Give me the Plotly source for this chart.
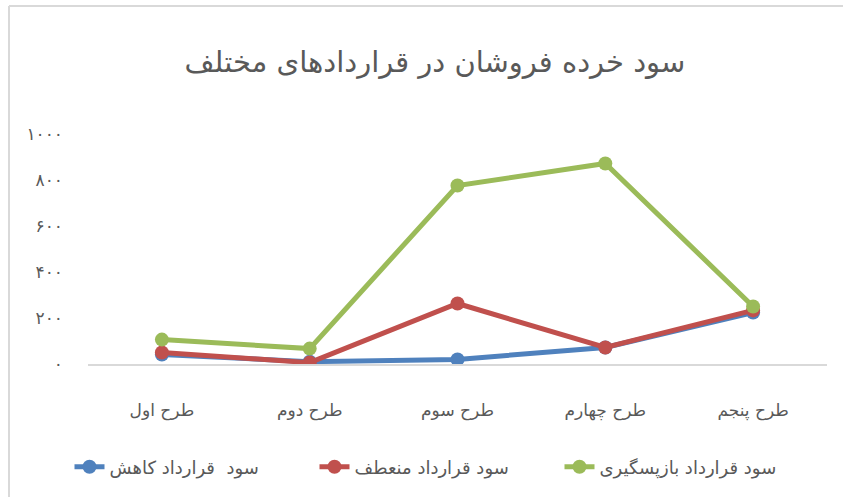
import plotly.graph_objects as go

W, H = 843, 497

categories = ["طرح اول", "طرح دوم", "طرح سوم", "طرح چهارم", "طرح پنجم"]
series_names = ["سود  قرارداد کاهش", "سود قرارداد منعطف", "سود قرارداد بازپسگیری"]
kahesh = [41, 10, 20, 72, 224]
monatef = [50, 6, 263, 72, 233]
bazpasgiri = [106, 67, 776, 872, 250]
series_values = [kahesh, monatef, bazpasgiri]
colors = ["#4F81BD", "#C0504D", "#9BBB59"]
ytick_vals = [0, 200, 400, 600, 800, 1000]
ytick_text = ["۰", "۲۰۰", "۴۰۰", "۶۰۰", "۸۰۰", "۱۰۰۰"]
title_text = "سود خرده فروشان در قراردادهای مختلف"

FONT = "DejaVu Sans"
GREY = "#595959"

fig = go.Figure()
for name, vals, col in zip(series_names, series_values, colors):
    fig.add_trace(go.Scatter(
        x=categories, y=vals, name=name, mode="lines+markers",
        line=dict(color=col, width=5),
        marker=dict(color=col, size=14),
    ))

fig.update_layout(
    width=W, height=H,
    margin=dict(l=0, r=0, t=0, b=0, pad=0, autoexpand=False),
    paper_bgcolor="white", plot_bgcolor="white",
    font=dict(family=FONT, color=GREY),
    title=dict(text=title_text, x=435 / W, xanchor="center", y=1 - 62 / H, yanchor="middle",
               font=dict(size=29, color=GREY, family=FONT)),
    xaxis=dict(domain=[88 / W, 827 / W], range=[-0.5, 4.5], showgrid=False,
               showline=True, linecolor="#D9D9D9", linewidth=1.5, ticks="",
               tickfont=dict(size=17, color=GREY), ticklabelstandoff=30, zeroline=False,
               automargin=False),
    yaxis=dict(domain=[(H - 364) / H, (H - 134) / H], range=[0, 1000], showgrid=False,
               showline=False, zeroline=False, tickvals=ytick_vals, ticktext=ytick_text,
               ticks="", tickfont=dict(size=17, color=GREY), ticklabelstandoff=24,
               automargin=False),
    legend=dict(orientation="h", x=437 / W, xanchor="center", y=1 - 467 / H, yanchor="middle",
                font=dict(size=18, color=GREY), traceorder="normal",
                entrywidth=200, entrywidthmode="pixels"),
    showlegend=True,
    shapes=[
        dict(type="line", xref="paper", yref="paper", x0=9 / W, x1=1, y0=1 - 6 / H, y1=1 - 6 / H,
             line=dict(color="#D9D9D9", width=2)),
        dict(type="line", xref="paper", yref="paper", x0=9 / W, x1=9 / W, y0=0, y1=1 - 6 / H,
             line=dict(color="#D9D9D9", width=2)),
    ],
)

fig.write_html(
    "out.html",
    config={"displayModeBar": False},
    post_script="document.body.style.margin='0';document.body.style.overflow='hidden';"
                "document.documentElement.style.overflow='hidden';",
)
